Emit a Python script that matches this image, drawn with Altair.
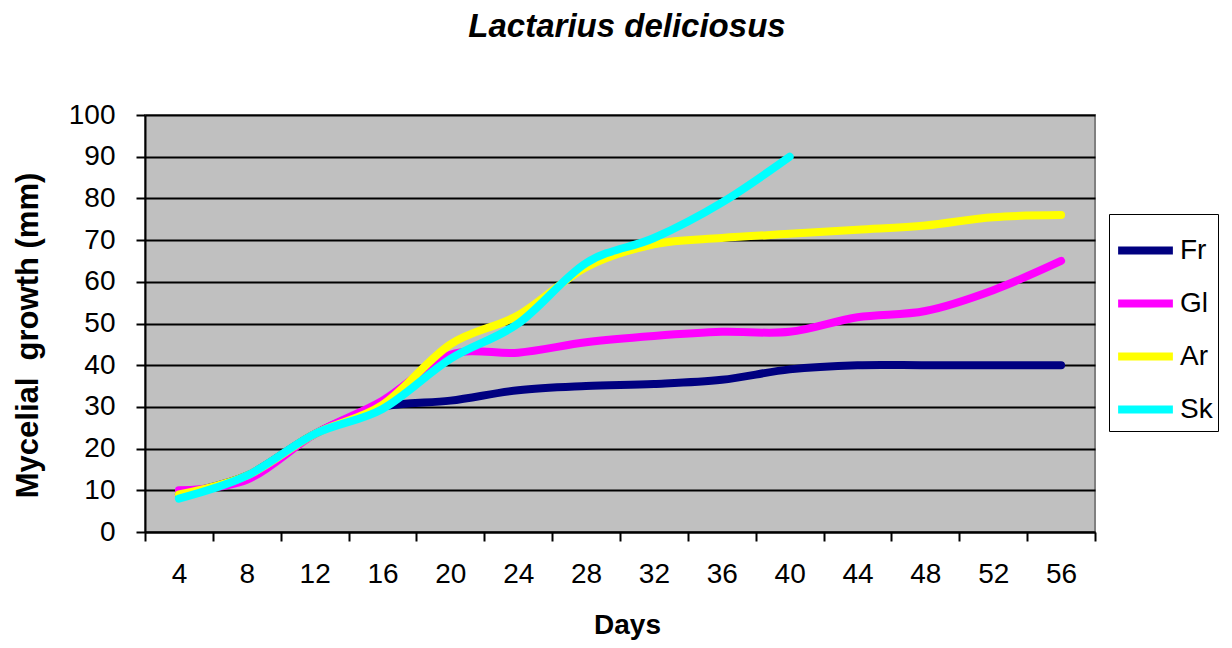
import altair as alt
import pandas as pd

days = [4, 8, 12, 16, 20, 24, 28, 32, 36, 40, 44, 48, 52, 56]
fr = [9, 13.5, 23.5, 30, 31.5, 34, 35, 35.5, 36.5, 39, 40, 40, 40, 40]
gl = [10, 12.5, 23.5, 31.5, 42.5, 43, 45.5, 47, 48, 48, 51.5, 53, 58, 65]
ar = [9, 13.5, 23.5, 30.5, 45, 52, 63.5, 69, 70.5, 71.5, 72.5, 73.5, 75.5, 76]
sk = [8, 13.5, 23.5, 29.5, 41.5, 50, 64.5, 70.5, 79, 90]
series = ["Fr", "Gl", "Ar", "Sk"]
colors = ["#000080", "#FF00FF", "#FFFF00", "#00FFFF"]
y_ticks = list(range(0, 101, 10))

rows = []
for name, vals in zip(series, [fr, gl, ar, sk]):
    for d, v in zip(days, vals):
        rows.append({"day": d, "value": v, "series": name})
df = pd.DataFrame(rows)

FONT = "Liberation Sans"

x_enc = alt.X(
    "day:O",
    bandPosition=0.5,
    scale=alt.Scale(type="band", paddingInner=0, paddingOuter=0, domain=days),
    axis=alt.Axis(
        title="Days",
        tickBand="extent",
        labelAngle=0,
        grid=False,
        labelPadding=19,
        titleFontSize=28,
        titleFontWeight="bold",
        titleX=482,
        titleY=93,
        titleBaseline="middle",
        titleAlign="center",
    ),
)
y_enc = alt.Y(
    "value:Q",
    scale=alt.Scale(domain=[0, 100], nice=False),
    axis=alt.Axis(
        values=y_ticks,
        title="Mycelial\u00a0 growth (mm)",
        grid=True,
        labelPadding=21,
        titleFontSize=31,
        titleFontWeight="bold",
        titleX=-117,
        titleY=220,
        titleAngle=-90,
        titleBaseline="middle",
        titleAlign="center",
    ),
)
color_enc = alt.Color(
    "series:N",
    scale=alt.Scale(domain=series, range=colors),
    legend=alt.Legend(
        orient="none",
        legendX=964,
        legendY=99,
        title=None,
        symbolType="stroke",
        symbolStrokeWidth=8,
        symbolSize=3000,
        labelFontSize=28,
        labelFont=FONT,
        labelColor="black",
        labelOffset=3,
        strokeColor="black",
        fillColor="white",
        padding=5,
        rowPadding=5,
    ),
)

layers = []
for name in series:
    layers.append(
        alt.Chart(df)
        .transform_filter(alt.datum.series == name)
        .mark_line(strokeWidth=8, strokeCap="round", strokeJoin="round",
                   interpolate="cardinal", tension=0)
        .encode(x=x_enc, y=y_enc, color=color_enc)
    )

chart = (
    alt.layer(*layers)
    .properties(
        width=950,
        height=417,
        autosize=alt.AutoSizeParams(type="none"),
        padding={"left": 137, "top": 107, "right": 129, "bottom": 108},
        title=alt.TitleParams(
            "Lactarius deliciosus",
            font=FONT,
            fontSize=33,
            fontWeight="bold",
            fontStyle="italic",
            anchor="middle",
            frame="group",
            offset=57,
            dx=7,
            color="black",
        ),
    )
    .configure(background="white")
    .configure_view(fill="#C0C0C0", stroke="#808080", strokeWidth=2)
    .configure_axis(
        labelFont=FONT,
        titleFont=FONT,
        labelFontSize=28,
        labelColor="black",
        titleColor="black",
        domainColor="black",
        domainWidth=2,
        tickColor="black",
        tickWidth=2,
        tickSize=9,
        gridColor="black",
        gridWidth=2,
        gridOpacity=1,
    )
)

chart.save("out.html", embed_options={"renderer": "svg", "actions": False})
